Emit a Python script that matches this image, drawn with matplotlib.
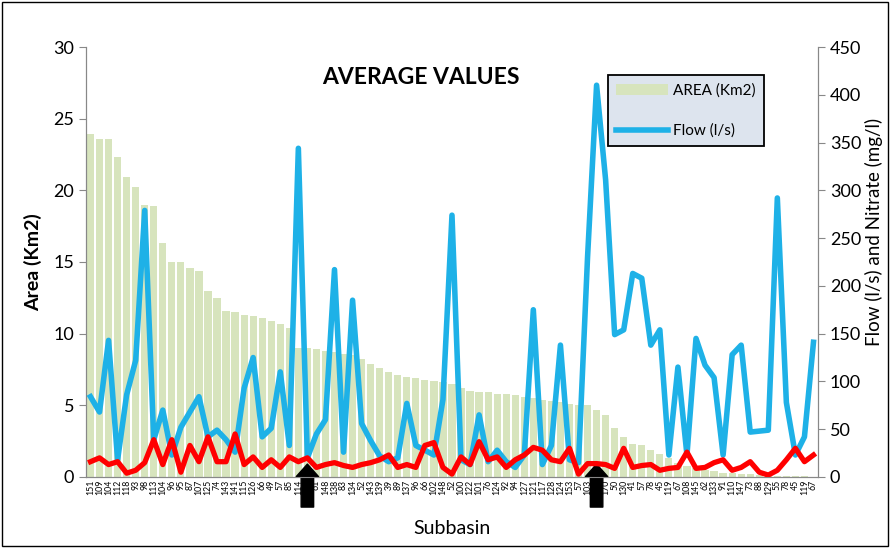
import matplotlib
matplotlib.use("Agg")
import matplotlib.pyplot as plt
from matplotlib.patches import Patch
from matplotlib.lines import Line2D

# Subbasin identifiers, sorted by decreasing area
subbasins = ['151', '109', '104', '112', '118', '93', '98', '113', '104', '96',
             '95', '87', '107', '125', '74', '143', '141', '115', '126', '66',
             '49', '57', '85', '114', '116', '61', '148', '138', '83', '134',
             '52', '143', '139', '39', '89', '137', '96', '66', '102', '148',
             '52', '100', '122', '101', '76', '124', '92', '94', '127', '121',
             '117', '128', '124', '153', '57', '103', '80', '170', '50', '130',
             '41', '57', '78', '45', '119', '67', '108', '145', '62', '133',
             '91', '110', '147', '73', '88', '129', '55', '78', '45', '119', '67']

area = [23.9, 23.6, 23.6, 22.3, 20.9, 20.2, 19.0, 18.9, 16.3, 15.0,
        15.0, 14.6, 14.4, 13.0, 12.5, 11.6, 11.5, 11.3, 11.2, 11.1,
        10.9, 10.7, 10.4, 9.0, 9.0, 8.9, 8.8, 8.7, 8.6, 8.5,
        8.2, 7.9, 7.6, 7.3, 7.1, 7.0, 6.9, 6.8, 6.7, 6.6,
        6.5, 6.2, 6.0, 5.9, 5.9, 5.8, 5.8, 5.7, 5.6, 5.5,
        5.4, 5.3, 5.2, 5.1, 5.0, 5.0, 4.7, 4.3, 3.4, 2.8,
        2.3, 2.2, 1.9, 1.6, 1.3, 1.0, 0.8, 0.6, 0.5, 0.4,
        0.3, 0.3, 0.2, 0.2, 0.15, 0.1, 0.1, 0.08, 0.05, 0.05, 0.03]

flow = [84, 68, 143, 18, 86, 122, 279, 39, 70, 23,
        52, 68, 84, 42, 49, 39, 26, 93, 125, 42,
        51, 110, 33, 344, 20, 45, 60, 217, 26, 185,
        56, 38, 22, 16, 20, 77, 33, 28, 23, 81,
        274, 18, 13, 65, 16, 28, 16, 10, 23, 175,
        13, 33, 138, 18, 15, 230, 410, 311, 149, 154,
        213, 208, 138, 154, 23, 115, 23, 145, 117, 104,
        23, 128, 138, 47, 48, 49, 292, 78, 23, 42, 141]

nitrate = [16, 20, 13, 16, 4, 7, 15, 39, 13, 39,
           5, 33, 16, 42, 16, 16, 45, 13, 21, 10,
           18, 10, 21, 16, 20, 10, 13, 15, 12, 10,
           13, 15, 18, 23, 10, 13, 10, 33, 36, 10,
           3, 21, 13, 37, 18, 21, 10, 18, 23, 31,
           28, 18, 16, 30, 3, 14, 14, 13, 9, 30,
           10, 12, 13, 7, 9, 10, 26, 9, 10, 15,
           18, 7, 10, 16, 5, 2, 7, 18, 30, 16, 23]

# subbasins marked with an arrow
marked = [24, 56]

plt.rcParams['font.family'] = ['Lato', 'DejaVu Sans']

fig = plt.figure(figsize=(8.9, 5.48), dpi=100)
ax = fig.add_axes([0.0966, 0.1296, 0.8225, 0.7846])
ax2 = ax.twinx()

x = list(range(len(subbasins)))
ax.bar(x, area, width=0.8, color='#d7e4bd', zorder=1)
ax.set_xlim(-0.5, len(subbasins) - 0.5)
ax.set_ylim(0, 30)
ax.set_yticks(range(0, 31, 5))
ax.set_xticks(x)
ax.set_xticklabels(subbasins, rotation=90, fontsize=6.3)
ax.tick_params(axis='x', length=0, pad=2)
ax.tick_params(axis='y', labelsize=13, length=5, color='#888888')
ax.set_ylabel('Area (Km2)', fontsize=14, fontweight='bold', labelpad=8)
ax.set_xlabel('Subbasin', fontsize=14, labelpad=18)

ax2.plot(x, flow, color='#1eb1e7', lw=4, zorder=3)
ax2.plot(x, nitrate, color='#ff0000', lw=3.8, zorder=4)
ax2.set_ylim(0, 450)
ax2.set_yticks(range(0, 451, 50))
ax2.tick_params(axis='y', labelsize=13, length=5, color='#888888')
ax2.set_ylabel('Flow (l/s) and Nitrate (mg/l)', fontsize=13.5)
ax2.yaxis.set_label_coords(1.064, 0.57)

for a in (ax, ax2):
    a.spines['top'].set_visible(False)
    for s in ('left', 'right', 'bottom'):
        a.spines[s].set_color('#888888')

ax.set_title('AVERAGE VALUES', fontsize=16.5, fontweight='bold', x=0.457, y=0.895)

handles = [Patch(facecolor='#d7e4bd', edgecolor='none'),
           Line2D([], [], color='#1eb1e7', lw=4)]
leg = ax2.legend(handles, ['AREA (Km2)', 'Flow (l/s)'], loc='upper left',
                 bbox_to_anchor=(0.713, 0.935), fontsize=11, frameon=True,
                 fancybox=False, labelspacing=1.7, handlelength=3.4,
                 borderpad=0.55, handletextpad=0.3, borderaxespad=0)
leg.get_frame().set_facecolor('#dde4ee')
leg.get_frame().set_edgecolor('black')
leg.get_frame().set_linewidth(1.3)
leg.get_frame().set_alpha(1)

# black arrows under the axis pointing at selected subbasins
for i in marked:
    ax.annotate('', xy=(i, 0.03), xytext=(i, -0.07),
                xycoords=('data', 'axes fraction'),
                textcoords=('data', 'axes fraction'),
                arrowprops=dict(arrowstyle='simple,head_width=1.6,head_length=0.9,tail_width=0.9',
                                color='black', shrinkA=0, shrinkB=0),
                annotation_clip=False, zorder=10)

# thin frame around the whole chart
fig.patches.append(plt.Rectangle((0.002, 0.003), 0.996, 0.994, transform=fig.transFigure,
                                 fill=False, edgecolor='black', lw=1))

fig.savefig('out.png', dpi=100)
